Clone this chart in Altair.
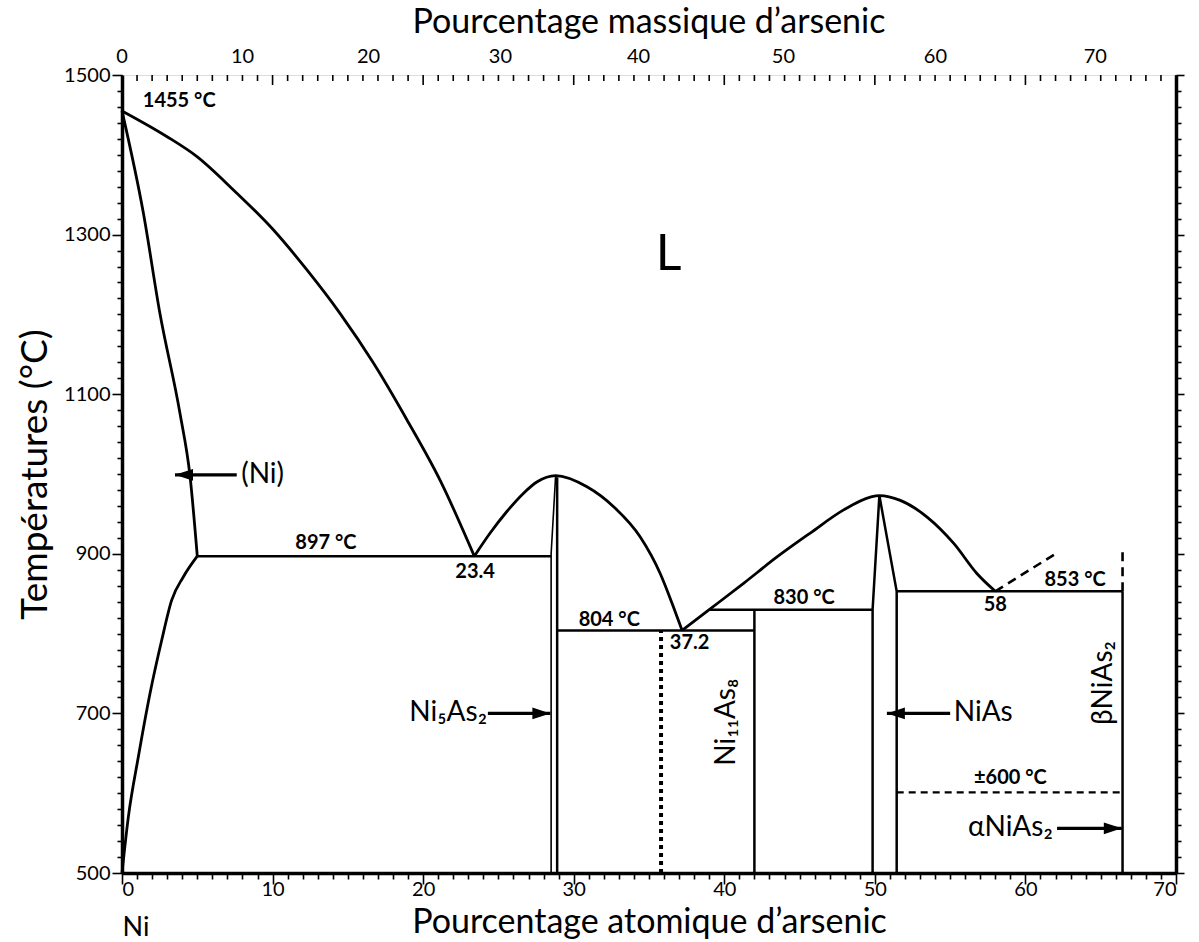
import altair as alt
import pandas as pd

W, H = 1054, 798
FONT = "Lato"
X_DOM = [0, 70]
Y_DOM = [500, 1500]

# ---- phase boundaries: at.% As vs temperature (°C) ----
liq_ni_at = [0, 2.97, 4.96, 7.40, 10.05, 12.27, 14.49, 16.70, 18.92, 21.13, 23.4]
liq_ni_T = [1455, 1423, 1398, 1356, 1306, 1256, 1201, 1139, 1068, 992, 897]
sol_ni_at = [0, 1.42, 2.52, 3.85, 4.52, 5.0]
sol_ni_T = [1455, 1327, 1201, 1076, 997, 897]
solv_ni_at = [0, 0.42, 1.08, 1.86, 2.64, 3.30, 4.07, 5.0]
solv_ni_T = [500, 570, 645, 725, 792, 842, 871, 897]
liq_ni5as2_at = [23.4, 24.45, 25.56, 26.67, 27.55, 28.8, 30.88, 32.65, 34.42, 35.75, 36.63, 37.2]
liq_ni5as2_T = [897, 926, 953, 976, 990, 998, 984, 959, 921, 875, 833, 804]
liq_nias_at = [37.2, 39.0, 41.28, 43.5, 45.71, 47.93, 49.7, 50.3, 51.69, 53.47, 55.24, 56.79, 58.0]
liq_nias_T = [804, 830, 863, 896, 926, 955, 971, 973, 967, 946, 913, 875, 853]

# straight boundaries
eut897_at, eut897_T = [5.0, 28.5], [897, 897]
ni5as2_l_at, ni5as2_l_T = [28.5, 28.5, 28.8], [500, 900, 998]
ni5as2_r_at, ni5as2_r_T = [28.9, 28.9], [500, 996]
eut804_at, eut804_T = [28.9, 42.0], [804, 804]
ni11as8_at, ni11as8_T = [42.0, 42.0], [500, 830]
per830_at, per830_T = [39.0, 49.85], [830, 830]
nias_l_at, nias_l_T = [49.85, 49.85, 50.3], [500, 830, 973]
nias_r_at, nias_r_T = [50.3, 51.45, 51.45], [973, 853, 500]
eut853_at, eut853_T = [51.45, 66.45], [853, 853]
nias2_at, nias2_T = [66.45, 66.45], [500, 853]

# uncertain boundaries
liq_as_at, liq_as_T = [58.0, 62.0], [853, 900]
nias2_top_at, nias2_top_T = [66.45, 66.45], [853, 903]
trans600_at, trans600_T = [51.45, 66.45], [601, 601]
dotted_at, dotted_T = [35.8, 35.8], [500, 804]

# labels
bold_text = ["1455 °C", "897 °C", "23.4", "804 °C", "37.2", "830 °C", "58", "853 °C", "±600 °C"]
bold_at = [3.8, 13.54, 23.45, 32.36, 37.7, 45.3, 58.0, 63.3, 59.0]
bold_T = [1467, 913, 877, 817, 788, 845, 836, 867, 619]

phase_text = ["(Ni)", "Ni₅As₂", "NiAs", "αNiAs₂"]
phase_at = [9.34, 21.66, 57.2, 59.0]
phase_T = [999, 700, 700, 556]

vert_text = ["Ni₁₁As₈", "βNiAs₂"]
vert_at = [40.2, 65.25]
vert_T = [689, 738]

# arrows (tail -> tip)
arrow_tail = [7.62, 24.3, 55.0, 62.1]
arrow_tip = [3.52, 28.45, 50.8, 66.4]
arrow_T = [999, 700, 700, 556]
arrow_dir = ["left", "right", "left", "right"]

# mass-percent scale on top
mass_labels = [0, 10, 20, 30, 40, 50, 60, 70]
M_AS, M_NI = 74.92, 58.69


def wt_to_at(w):
    return 100 * (w / M_AS) / (w / M_AS + (100 - w) / M_NI)


def seg(name, at, T):
    return pd.DataFrame({"seg": name, "i": range(len(at)), "a": at, "T": T})


curves = pd.concat([
    seg("liq_ni", liq_ni_at, liq_ni_T),
    seg("sol_ni", sol_ni_at, sol_ni_T),
    seg("solv_ni", solv_ni_at, solv_ni_T),
    seg("liq_ni5as2", liq_ni5as2_at, liq_ni5as2_T),
    seg("liq_nias", liq_nias_at, liq_nias_T),
])
straight = pd.concat([
    seg("eut897", eut897_at, eut897_T),
    seg("ni5as2_r", ni5as2_r_at, ni5as2_r_T),
    seg("eut804", eut804_at, eut804_T),
    seg("ni11as8", ni11as8_at, ni11as8_T),
    seg("per830", per830_at, per830_T),
    seg("nias_l", nias_l_at, nias_l_T),
    seg("nias_r", nias_r_at, nias_r_T),
    seg("eut853", eut853_at, eut853_T),
    seg("nias2", nias2_at, nias2_T),
])
thin = seg("ni5as2_l", ni5as2_l_at, ni5as2_l_T)
dashed = pd.concat([
    seg("liq_as", liq_as_at, liq_as_T),
    seg("nias2_top", nias2_top_at, nias2_top_T),
])
dashed600 = seg("trans600", trans600_at, trans600_T)
dotted = seg("dotted", dotted_at, dotted_T)

xs = alt.Scale(domain=X_DOM, nice=False, zero=False)
ys = alt.Scale(domain=Y_DOM, nice=False, zero=False)

X_MAJOR = "datum.value % 10 === 0"
Y_MAJOR = "(datum.value - 500) % 200 === 0"

x_axis = alt.Axis(
    values=list(range(0, 71)),
    labelExpr=f"{X_MAJOR} ? datum.label : ''",
    tickSize={"condition": {"test": X_MAJOR, "value": 11}, "value": 6},
    tickWidth=1.6, tickColor="black",
    domainColor="black", domainWidth=3.5,
    labelFont=FONT, labelFontSize=20, labelColor="black", labelPadding=-5,
    grid=False,
    title="Pourcentage atomique d’arsenic", titleFont=FONT, titleFontSize=34,
    titleFontWeight="normal", titleColor="black", titlePadding=6,
)
y_axis = alt.Axis(
    values=list(range(500, 1501, 20)),
    labelExpr=f"{Y_MAJOR} ? format(datum.value, 'd') : ''",
    tickSize={"condition": {"test": Y_MAJOR, "value": 10}, "value": 5},
    tickWidth=1.6, tickColor="black",
    domainColor="black", domainWidth=3.5,
    labelFont=FONT, labelFontSize=20, labelColor="black", labelPadding=2,
    grid=False,
    title="Températures (°C)", titleFont=FONT, titleFontSize=37,
    titleFontWeight="normal", titleColor="black", titlePadding=9,
)
y_axis_right = alt.Axis(
    orient="right",
    values=list(range(500, 1501, 20)),
    labels=False,
    tickSize={"condition": {"test": Y_MAJOR, "value": 8}, "value": 5},
    tickWidth=1.6, tickColor="black",
    domainColor="black", domainWidth=3.5,
    grid=False, title=None,
)

X = alt.X("a:Q", scale=xs, axis=x_axis)
Y = alt.Y("T:Q", scale=ys, axis=y_axis)


def line_layer(df, **kw):
    return alt.Chart(df).mark_line(color="black", **kw).encode(
        x=X, y=Y, detail="seg:N", order="i:Q"
    )


curve_layer = line_layer(curves, strokeWidth=2.8, interpolate="monotone")
straight_layer = line_layer(straight, strokeWidth=2.5)
thin_layer = line_layer(thin, strokeWidth=1.6)
dashed_layer = line_layer(dashed, strokeWidth=2.6, strokeDash=[9, 6])
dashed600_layer = line_layer(dashed600, strokeWidth=2.2, strokeDash=[7, 5])
dotted_layer = line_layer(dotted, strokeWidth=4, strokeDash=[4, 4], strokeCap="butt")

# arrows
arrows = pd.DataFrame({"tail": arrow_tail, "tip": arrow_tip, "T": arrow_T, "dir": arrow_dir})
shaft_layer = alt.Chart(arrows).mark_rule(color="black", strokeWidth=3.3).encode(
    x=X, x2="tip:Q", y=Y
).transform_calculate(a="datum.tail")
head_layer = alt.Chart(arrows).mark_point(
    filled=True, color="black", opacity=1, size=324, strokeWidth=0
).encode(
    x=alt.X("tip:Q", scale=xs, axis=x_axis),
    y=Y,
    shape=alt.Shape(
        "dir:N",
        scale=alt.Scale(domain=["left", "right"],
                        range=["M0,0L2,-0.65L2,0.65Z", "M0,0L-2,-0.65L-2,0.65Z"]),
        legend=None,
    ),
)

# text
bold_df = pd.DataFrame({"a": bold_at, "T": bold_T, "t": bold_text})
bold_layer = alt.Chart(bold_df).mark_text(
    font=FONT, fontSize=20, fontWeight="bold", color="black", baseline="middle"
).encode(x=X, y=Y, text="t:N")

phase_df = pd.DataFrame({"a": phase_at, "T": phase_T, "t": phase_text})
phase_layer = alt.Chart(phase_df).mark_text(
    font=FONT, fontSize=28, color="black", baseline="middle"
).encode(x=X, y=Y, text="t:N")

vert_df = pd.DataFrame({"a": vert_at, "T": vert_T, "t": vert_text})
vert_layer = alt.Chart(vert_df).mark_text(
    font=FONT, fontSize=28, color="black", baseline="middle", angle=270
).encode(x=X, y=Y, text="t:N")

liquid_df = pd.DataFrame({"a": [36.3], "T": [1275], "t": ["L"]})
liquid_layer = alt.Chart(liquid_df).mark_text(
    font=FONT, fontSize=50, color="black", baseline="middle"
).encode(x=X, y=Y, text="t:N")

ni_df = pd.DataFrame({"a": [0.93], "t": ["Ni"]})
ni_layer = alt.Chart(ni_df).mark_text(
    font=FONT, fontSize=27, color="black", baseline="middle"
).encode(x=X, y=alt.value(H + 55), text="t:N")

# top scale: at.% ticks pointing inward, mass-% labels
top_ticks = pd.DataFrame({"a": list(range(0, 71))})
top_minor = alt.Chart(top_ticks).transform_filter("datum.a % 10 !== 0").mark_rule(
    color="black", strokeWidth=1.6
).encode(x=X, y=alt.value(0), y2=alt.value(6))
top_major = alt.Chart(top_ticks).transform_filter("datum.a % 10 === 0").mark_rule(
    color="black", strokeWidth=1.6
).encode(x=X, y=alt.value(0), y2=alt.value(10))
mass_df = pd.DataFrame({"a": [wt_to_at(w) for w in mass_labels], "t": [str(w) for w in mass_labels]})
mass_layer = alt.Chart(mass_df).mark_text(
    font=FONT, fontSize=20, color="black", baseline="middle"
).encode(x=X, y=alt.value(-18), text="t:N")

main = alt.layer(
    curve_layer, straight_layer, thin_layer, dashed_layer, dashed600_layer, dotted_layer,
    shaft_layer, head_layer, bold_layer, phase_layer, vert_layer, liquid_layer, ni_layer,
    top_minor, top_major, mass_layer,
)

right_axis_layer = alt.Chart(pd.DataFrame({"a": [0], "T": [500]})).mark_point(opacity=0).encode(
    x=X, y=alt.Y("T:Q", scale=ys, axis=y_axis_right)
)

chart = alt.layer(main, right_axis_layer).resolve_scale(y="independent").properties(
    width=W, height=H,
    padding={"left": 122, "top": 75, "right": 23, "bottom": 69},
    autosize=alt.AutoSizeParams(type="none"),
    title=alt.TitleParams(
        "Pourcentage massique d’arsenic", font=FONT, fontSize=34,
        fontWeight="normal", color="black", anchor="middle", offset=7,
    ),
).configure_view(stroke="black", strokeWidth=3.5).configure(background="white")

chart.save("out.html", embed_options={"renderer": "svg", "actions": False})
